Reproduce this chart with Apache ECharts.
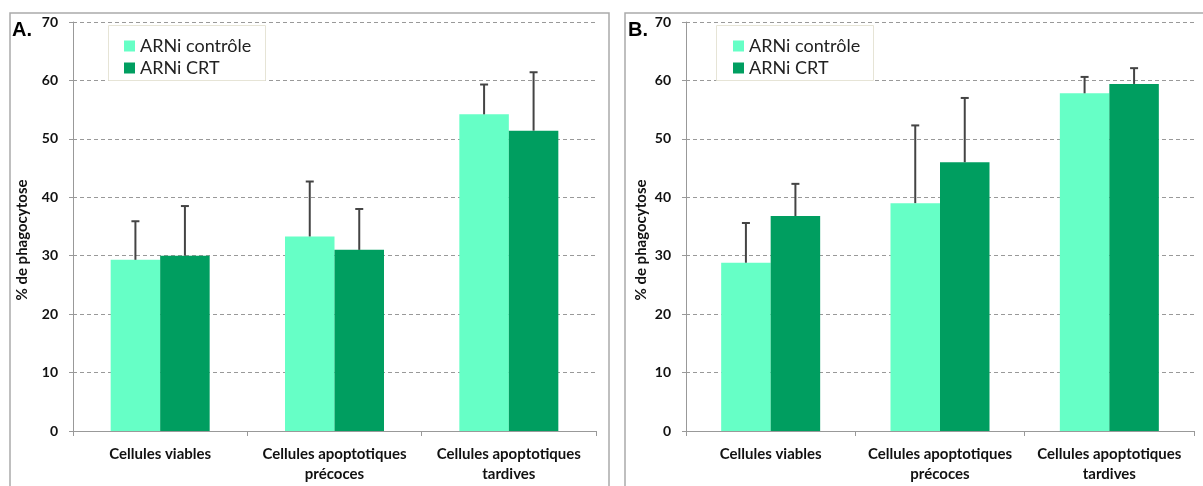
<!DOCTYPE html>
<html><head><meta charset="utf-8">
<script src="https://cdn.jsdelivr.net/npm/echarts@6/dist/echarts.min.js"></script>
<style>html,body{margin:0;padding:0;background:#fff}#c{width:1203px;height:486px}</style>
</head><body><div id="c"></div>
<script>
const categories = ['Cellules viables', 'Cellules apoptotiques\nprécoces', 'Cellules apoptotiques\ntardives'];
const seriesNames = ['ARNi contrôle', 'ARNi CRT'];
const yTicks = [0, 10, 20, 30, 40, 50, 60, 70];
// Panel A
const A_ctrl = [29.3, 33.3, 54.2];
const A_ctrl_err = [6.6, 9.4, 5.1];
const A_crt = [30.0, 31.0, 51.4];
const A_crt_err = [8.5, 7.0, 10.0];
// Panel B
const B_ctrl = [28.8, 39.0, 57.8];
const B_ctrl_err = [6.8, 13.3, 2.8];
const B_crt = [36.8, 46.0, 59.4];
const B_crt_err = [5.5, 11.0, 2.7];

const LIGHT = '#66FFC6', DARK = '#009E60';
const FONT = 'Lato';
const BAR_W = 49.5;

function errSeries(vals, errs, gi, dir) {
  return {
    type: 'custom', xAxisIndex: gi, yAxisIndex: gi, z: 5, silent: true,
    data: vals.map((v, i) => [i, v, errs[i]]),
    renderItem: function (params, api) {
      const i = api.value(0), v = api.value(1), e = api.value(2);
      const p0 = api.coord([i, v]);
      const p1 = api.coord([i, v + e]);
      const x = p0[0] + dir * BAR_W / 2;
      return { type: 'group', children: [
        { type: 'line', shape: { x1: x, y1: p0[1], x2: x, y2: p1[1] }, style: { stroke: '#444', lineWidth: 2 } },
        { type: 'line', shape: { x1: x - 4, y1: p1[1], x2: x + 4, y2: p1[1] }, style: { stroke: '#444', lineWidth: 2 } }
      ]};
    }
  };
}

function xAxis(gi) {
  return {
    type: 'category', gridIndex: gi, data: categories,
    axisLine: { lineStyle: { color: '#999', width: 1 } },
    axisTick: { show: true, length: 5, lineStyle: { color: '#999' } },
    axisLabel: { margin: 13, fontFamily: FONT, fontWeight: 'bold', fontSize: 15, color: '#111', lineHeight: 20, interval: 0 }
  };
}
function yAxis(gi) {
  return {
    type: 'value', gridIndex: gi, min: 0, max: 70, interval: 10,
    axisLine: { show: true, lineStyle: { color: '#999', width: 1 } },
    axisTick: { show: true, length: 4, lineStyle: { color: '#999' } },
    splitLine: { lineStyle: { color: '#999', type: [4, 3], width: 1 } },
    axisLabel: { margin: 15, fontFamily: FONT, fontWeight: 'bold', fontSize: 14, color: '#111',
      formatter: v => yTicks.includes(v) ? String(v) : '' }
  };
}
function bar(name, vals, gi, color) {
  return { name: name, type: 'bar', xAxisIndex: gi, yAxisIndex: gi, data: vals, barWidth: BAR_W, barGap: '0%',
    itemStyle: { color: color }, silent: true };
}
function legendBox(left) {
  return { type: 'rect', left: left, top: 25, shape: { width: 157, height: 55 },
    style: { fill: '#fff', stroke: '#e6e4d6', lineWidth: 1 }, z: 10 };
}

const chart = echarts.init(document.getElementById('c'), null, { renderer: 'canvas' });
chart.setOption({
  animation: false,
  grid: [
    { left: 73, top: 22, width: 523, height: 409 },
    { left: 686, top: 22, width: 508, height: 409 }
  ],
  xAxis: [xAxis(0), xAxis(1)],
  yAxis: [yAxis(0), yAxis(1)],
  legend: [
    { orient: 'vertical', left: 119, top: 31, itemWidth: 11, itemHeight: 11, itemGap: 2, icon: 'rect', z: 20,
      data: seriesNames, textStyle: { fontFamily: FONT, fontSize: 18, color: '#222', lineHeight: 20 } },
    { orient: 'vertical', left: 728, top: 31, itemWidth: 11, itemHeight: 11, itemGap: 2, icon: 'rect', z: 20,
      data: seriesNames, textStyle: { fontFamily: FONT, fontSize: 18, color: '#222', lineHeight: 20 } }
  ],
  graphic: [
    { type: 'polyline', shape: { points: [[10, 486], [10, 13], [609, 13], [609, 486]] }, style: { stroke: '#aaa', lineWidth: 1.5, fill: null } },
    { type: 'polyline', shape: { points: [[625, 486], [625, 13], [1210, 13]] }, style: { stroke: '#aaa', lineWidth: 1.5, fill: null } },
    legendBox(108), legendBox(716),
    { type: 'text', left: 12, top: 20, style: { text: 'A.', font: 'bold 20px "Liberation Sans"', fill: '#000' } },
    { type: 'text', left: 628, top: 20, style: { text: 'B.', font: 'bold 20px "Liberation Sans"', fill: '#000' } },
    { type: 'text', x: 22, y: 240, rotation: Math.PI / 2, style: { text: '% de phagocytose', font: 'bold 15px Lato', fill: '#111', align: 'center', verticalAlign: 'middle' } },
    { type: 'text', x: 641, y: 240, rotation: Math.PI / 2, style: { text: '% de phagocytose', font: 'bold 15px Lato', fill: '#111', align: 'center', verticalAlign: 'middle' } }
  ],
  series: [
    bar(seriesNames[0], A_ctrl, 0, LIGHT), bar(seriesNames[1], A_crt, 0, DARK),
    bar(seriesNames[0], B_ctrl, 1, LIGHT), bar(seriesNames[1], B_crt, 1, DARK),
    errSeries(A_ctrl, A_ctrl_err, 0, -1), errSeries(A_crt, A_crt_err, 0, 1),
    errSeries(B_ctrl, B_ctrl_err, 1, -1), errSeries(B_crt, B_crt_err, 1, 1)
  ]
});
</script></body></html>
